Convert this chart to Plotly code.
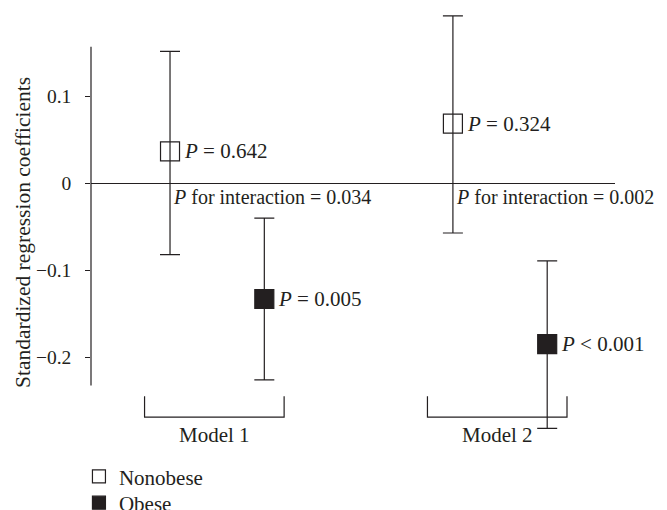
import plotly.graph_objects as go

# ---- data ----
models = ["Model 1", "Model 2"]
series = ["Nonobese", "Obese"]
coef = {"Nonobese": [0.037, 0.069], "Obese": [-0.133, -0.185]}
upper = {"Nonobese": [0.152, 0.193], "Obese": [-0.040, -0.089]}
lower = {"Nonobese": [-0.082, -0.057], "Obese": [-0.226, -0.282]}
p_labels = {"Nonobese": ["<i>P</i> = 0.642", "<i>P</i> = 0.324"],
            "Obese": ["<i>P</i> = 0.005", "<i>P</i> &lt; 0.001"]}
p_interaction = ["<i>P</i> for interaction = 0.034", "<i>P</i> for interaction = 0.002"]
tick_vals = [-0.2, -0.1, 0, 0.1]
tick_text = ["\u22120.2", "\u22120.1", "0", "0.1"]

INK = "#231f20"
FONT = "Liberation Serif, Times New Roman, serif"
FS = 21
INT_FS = 20
TICK_FS = 19.5
TITLE_FS = 21.5

symbols = {"Nonobese": "square-open", "Obese": "square"}
legend_ids = {"Nonobese": "legend", "Obese": "legend2"}

def xpos(gi, si):
    return gi * 3 + si + 1

fig = go.Figure()
for si, s in enumerate(series):
    xs = [xpos(gi, si) for gi in range(len(models))]
    fig.add_trace(go.Scatter(
        x=xs, y=coef[s], mode="markers", name=s, showlegend=False,
        marker=dict(symbol=symbols[s], size=19, color=INK,
                    line=dict(color=INK, width=1.2)),
        error_y=dict(type="data", symmetric=False,
                     array=[u - c for u, c in zip(upper[s], coef[s])],
                     arrayminus=[c - l for c, l in zip(coef[s], lower[s])],
                     color=INK, thickness=1.2, width=10),
        cliponaxis=False,
    ))
# legend entries (smaller symbols, as in the reference key)
for s in series:
    fig.add_trace(go.Scatter(
        x=[None], y=[None], mode="markers", name=s, showlegend=True,
        legend=legend_ids[s],
        marker=dict(symbol=symbols[s], size=13, color=INK,
                    line=dict(color=INK, width=1.2)),
    ))

annotations = []
for si, s in enumerate(series):
    for gi in range(len(models)):
        annotations.append(dict(x=xpos(gi, si), y=coef[s][gi], text=p_labels[s][gi],
                                xanchor="left", yanchor="middle", xshift=12,
                                showarrow=False, font=dict(family=FONT, size=FS, color=INK)))
for gi, m in enumerate(models):
    annotations.append(dict(x=xpos(gi, 0), y=0, text=p_interaction[gi],
                            xanchor="left", yanchor="middle", xshift=1, yshift=-14,
                            showarrow=False, font=dict(family=FONT, size=INT_FS, color=INK)))
    cx = (xpos(gi, 0) + xpos(gi, 1)) / 2 - 0.03
    annotations.append(dict(x=cx, y=-0.289, text=m, xanchor="center", yanchor="middle",
                            showarrow=False, font=dict(family=FONT, size=FS, color=INK)))
annotations.append(dict(x=-0.1298, y=0.4836, xref="paper", yref="paper",
                        text="Standardized regression coefficients", textangle=-90,
                        xanchor="center", yanchor="middle", showarrow=False,
                        font=dict(family=FONT, size=TITLE_FS, color=INK)))

shapes = [dict(type="line", xref="paper", yref="y", x0=0, x1=0, y0=-0.2325, y1=0.1575,
               line=dict(color=INK, width=1.2))]
for gi in range(len(models)):
    cx = (xpos(gi, 0) + xpos(gi, 1)) / 2 - 0.03
    x0, x1 = cx - 0.74, cx + 0.74
    shapes.append(dict(type="path", xref="x", yref="y",
                       path=f"M {x0},-0.2448 L {x0},-0.269 L {x1},-0.269 L {x1},-0.2448",
                       line=dict(color=INK, width=1.2)))

leg_common = dict(xanchor="left", yanchor="middle", bgcolor="rgba(0,0,0,0)",
                  font=dict(family=FONT, size=FS, color=INK), itemsizing="trace")

fig.update_layout(
    width=651, height=502,
    margin=dict(l=83, r=44, t=2, b=70, autoexpand=False),
    paper_bgcolor="white", plot_bgcolor="white",
    font=dict(family=FONT, size=FS, color=INK),
    xaxis=dict(range=[0.162, 5.719], visible=False, fixedrange=True),
    yaxis=dict(range=[-0.2953, 0.1997], showgrid=False, showline=False,
               zeroline=True, zerolinecolor=INK, zerolinewidth=1.2,
               tickvals=tick_vals, ticktext=[t + "\u2002" for t in tick_text],
               ticks="outside", ticklen=5, tickcolor=INK, tickwidth=1.2,
               automargin=False,
               tickfont=dict(family=FONT, size=TICK_FS, color=INK)),
    showlegend=True,
    legend=dict(x=-0.023, y=-0.0853, **leg_common),
    legend2=dict(x=-0.023, y=-0.1465, **leg_common),
    annotations=annotations, shapes=shapes,
)

fig.write_html("out.html")
